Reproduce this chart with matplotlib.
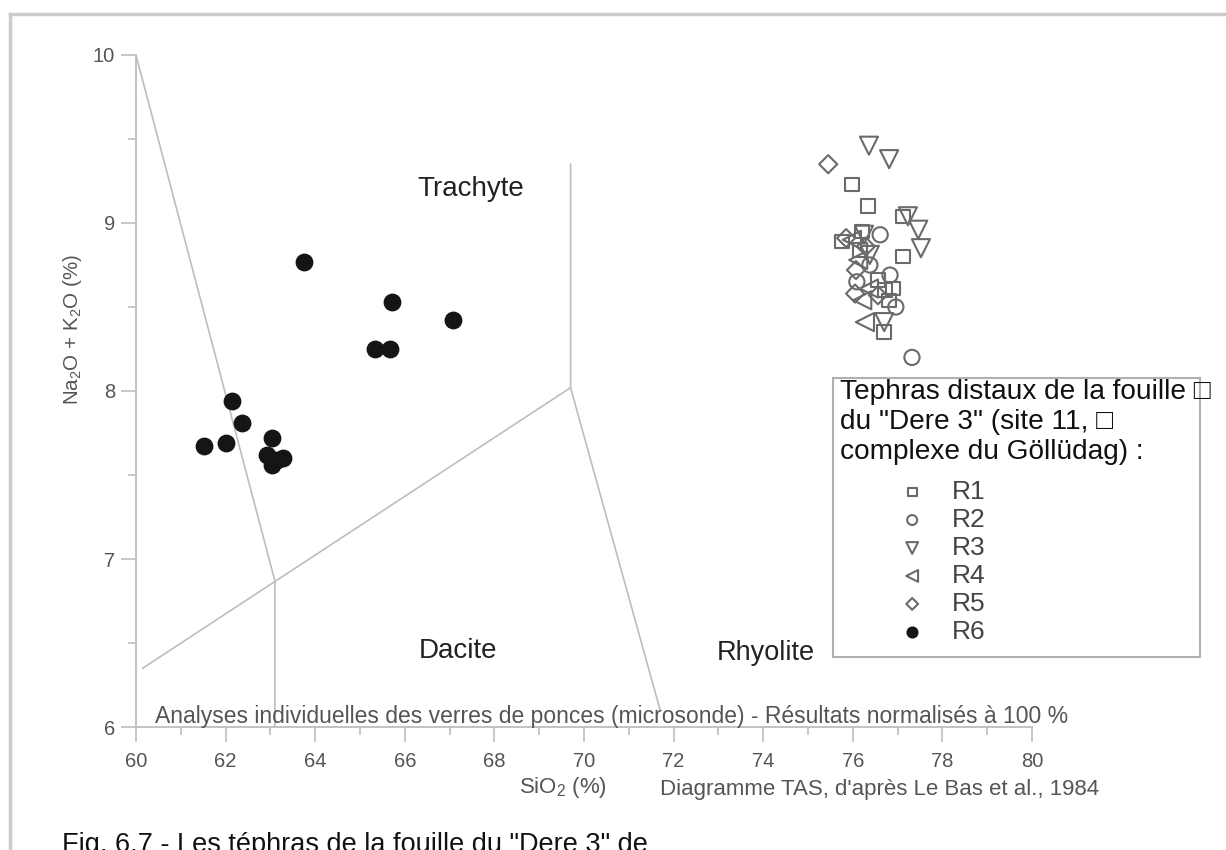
import matplotlib.pyplot as plt
from matplotlib.ticker import MultipleLocator
from matplotlib.lines import Line2D
from matplotlib.patches import Rectangle

plt.rcParams['font.family'] = ['Liberation Sans', 'DejaVu Sans']
plt.rcParams['mathtext.fontset'] = 'custom'
plt.rcParams['mathtext.rm'] = 'Liberation Sans'
plt.rcParams['mathtext.default'] = 'regular'

# TAS field boundaries as drawn on the figure (SiO2 %, Na2O+K2O %)
bound_a_x = [60.0, 63.1, 63.1]
bound_a_y = [10.0, 6.87, 6.0]
bound_b_x = [60.15, 69.7, 69.7]
bound_b_y = [6.35, 8.02, 9.35]
bound_c_x = [69.7, 71.7]
bound_c_y = [8.02, 6.1]

# pumice glass analyses, one list per level
r1_x = [75.98, 76.34, 75.76, 77.12, 77.12, 76.70, 76.72, 76.90, 76.81, 76.21, 76.16, 76.56]
r1_y = [9.23, 9.10, 8.89, 9.04, 8.80, 8.35, 8.60, 8.61, 8.54, 8.95, 8.84, 8.66]
r2_x = [76.61, 77.32, 76.96, 76.38, 76.09, 76.83]
r2_y = [8.93, 8.20, 8.50, 8.75, 8.65, 8.69]
r3_x = [76.36, 76.81, 77.23, 77.46, 77.52, 76.70, 76.25, 76.38]
r3_y = [9.46, 9.38, 9.04, 8.96, 8.85, 8.41, 8.93, 8.81]
r4_x = [76.27, 76.12, 75.98, 76.21, 76.36]
r4_y = [8.41, 8.78, 8.90, 8.54, 8.61]
r5_x = [75.45, 75.85, 76.07, 76.05, 76.29, 76.56]
r5_y = [9.35, 8.91, 8.72, 8.58, 8.86, 8.57]
r6_x = [61.52, 62.02, 62.14, 62.36, 63.04, 62.92, 63.03, 63.29, 63.14, 63.75, 65.71, 65.33, 65.67, 67.07]
r6_y = [7.67, 7.69, 7.94, 7.81, 7.72, 7.62, 7.56, 7.60, 7.59, 8.77, 8.53, 8.25, 8.25, 8.42]

fig = plt.figure(figsize=(12.26, 8.5), dpi=100)
ax = fig.add_axes([0.1109, 0.1447, 0.7309, 0.7906])

grey = '#bdbdbd'
for bx, by in [(bound_a_x, bound_a_y), (bound_b_x, bound_b_y), (bound_c_x, bound_c_y)]:
    ax.plot(bx, by, color=grey, lw=1.2, zorder=1)

edge = '#6a6a6a'
series = [
    (r1_x, r1_y, 's', 95, 'R1'),
    (r2_x, r2_y, 'o', 120, 'R2'),
    (r3_x, r3_y, 'v', 170, 'R3'),
    (r4_x, r4_y, '<', 170, 'R4'),
    (r5_x, r5_y, 'D', 85, 'R5'),
]
for xs, ys, m, s, lab in series:
    ax.scatter(xs, ys, marker=m, s=s, facecolors='none', edgecolors=edge,
               linewidths=1.5, label=lab, zorder=3)
ax.scatter(r6_x, r6_y, marker='o', s=140, color='#151515', label='R6', zorder=4)

ax.set_xlim(60, 80)
ax.set_ylim(6, 10)
ax.xaxis.set_major_locator(MultipleLocator(2))
ax.xaxis.set_minor_locator(MultipleLocator(1))
ax.yaxis.set_major_locator(MultipleLocator(1))
ax.yaxis.set_minor_locator(MultipleLocator(0.5))
for side in ['top', 'right']:
    ax.spines[side].set_visible(False)
for side in ['left', 'bottom']:
    ax.spines[side].set_color(grey)
    ax.spines[side].set_linewidth(1.3)
ax.tick_params(which='major', length=11, width=1.2, color=grey, labelsize=14.5, labelcolor='#555555')
ax.tick_params(which='minor', length=6, width=1.2, color=grey)
ax.tick_params(axis='x', pad=7)
ax.tick_params(axis='y', pad=4)

ax.text(67.48, 9.2, 'Trachyte', fontsize=20, color='#222222', ha='center', va='center')
ax.text(67.19, 6.45, 'Dacite', fontsize=20, color='#222222', ha='center', va='center')
ax.text(74.06, 6.44, 'Rhyolite', fontsize=19.5, color='#222222', ha='center', va='center')

fig.text(612 / 1226, 1 - 716 / 850,
         'Analyses individuelles des verres de ponces (microsonde) - Résultats normalisés à 100 %',
         fontsize=16.5, color='#555555', ha='center', va='center')
fig.text(563 / 1226, 1 - 788 / 850, 'SiO$_2$ (%)', fontsize=16, color='#555555', ha='center', va='center')
fig.text(660 / 1226, 1 - 790 / 850, "Diagramme TAS, d'après Le Bas et al., 1984", fontsize=16,
         color='#555555', ha='left', va='center')
fig.text(72 / 1226, 1 - 330 / 850, 'Na$_2$O + K$_2$O (%)', fontsize=14.8, color='#555555',
         rotation=90, ha='center', va='center')

# legend box with its heading
fig.patches.append(Rectangle((833 / 1226, 1 - 657 / 850), 367 / 1226, 279 / 850, transform=fig.transFigure,
                             fill=False, edgecolor='#b0b0b0', lw=1.5))
heading = ['Tephras distaux de la fouille \u25a1', 'du "Dere 3" (site 11, \u25a1', 'complexe du Göllüdag) :']
for i, line in enumerate(heading):
    fig.text(840 / 1226, 1 - (392 + 30 * i) / 850, line, fontsize=20.2, color='#111111', ha='left', va='center')

leg = ax.legend(loc='upper left', bbox_to_anchor=(899 / 1226, 1 - 480 / 850), bbox_transform=fig.transFigure,
                frameon=False, fontsize=19, markerscale=0.65, handlelength=1.0, handletextpad=1.0,
                labelspacing=0.15, borderpad=0, borderaxespad=0, scatterpoints=1)
for t in leg.get_texts():
    t.set_color('#444444')

# scanned page frame and caption
fig.add_artist(Line2D([10 / 1226, 1.0], [1 - 14 / 850, 1 - 14 / 850], transform=fig.transFigure,
                      color='#cccccc', lw=2.5))
fig.add_artist(Line2D([10 / 1226, 10 / 1226], [0.0, 1 - 14 / 850], transform=fig.transFigure,
                      color='#cccccc', lw=2.5))
fig.text(62 / 1226, 1 - 832 / 850, 'Fig. 6.7 - Les téphras de la fouille du "Dere 3" de', fontsize=19.5,
         color='#111111', ha='left', va='top')

fig.savefig('out.png', dpi=100)
